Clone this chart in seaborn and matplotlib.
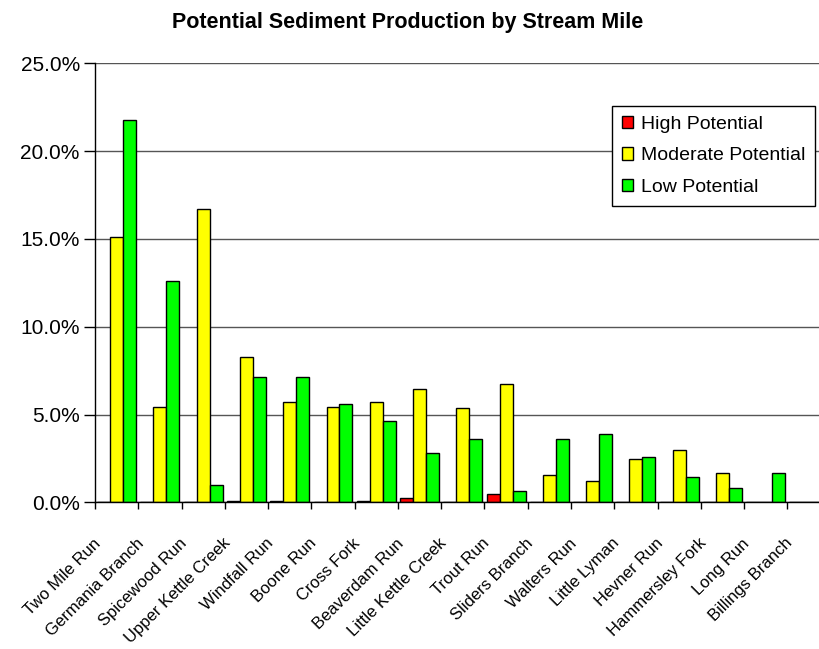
"""
plot.py — Potential sediment production by stream mile (grouped bars).
"""
import matplotlib
matplotlib.use("Agg")
import matplotlib.pyplot as plt
from matplotlib.ticker import PercentFormatter, FixedLocator
import matplotlib.transforms as mtransforms
import numpy as np
import pandas as pd
import seaborn as sns

# ─── Data (percent of stream miles) ──────────────────────────────────────────

streams = [
    "Two Mile Run", "Germania Branch", "Spicewood Run", "Upper Kettle Creek",
    "Windfall Run", "Boone Run", "Cross Fork", "Beaverdam Run",
    "Little Kettle Creek", "Trout Run", "Sliders Branch", "Walters Run",
    "Little Lyman", "Hevner Run", "Hammersley Fork", "Long Run",
    "Billings Branch",
]
high     = [0.0, 0.0, 0.0, 0.09, 0.09, 0.0, 0.08, 0.25, 0.0, 0.47,
            0.0, 0.0, 0.0, 0.0, 0.0, 0.0, 0.0]
moderate = [15.09, 5.44, 16.69, 8.27, 5.71, 5.43, 5.69, 6.45, 5.37, 6.72,
            1.55, 1.23, 2.47, 2.98, 1.65, 0.0, 0.0]
low      = [21.75, 12.62, 0.99, 7.13, 7.13, 5.62, 4.65, 2.81, 3.62, 0.66,
            3.62, 3.91, 2.56, 1.46, 0.83, 1.65, 0.0]

series_names = ["High Potential", "Moderate Potential", "Low Potential"]
series_colors = ["#FF0000", "#FFFF00", "#00FF00"]

df = pd.DataFrame({
    "stream": streams * 3,
    "potential": np.repeat(series_names, len(streams)),
    "share": high + moderate + low,
})

# ─── Plot ────────────────────────────────────────────────────────────────────

sns.set_style("white")
plt.rcParams["font.family"] = ["Liberation Sans", "DejaVu Sans"]
plt.rcParams["text.color"] = "black"
plt.rcParams["xtick.color"] = "black"
plt.rcParams["ytick.color"] = "black"

fig = plt.figure(figsize=(8.2, 6.49), dpi=100)
# plot area runs past the right edge, like the cropped original
ax = fig.add_axes([0.1159, 0.226, 0.897, 0.6764])

sns.barplot(
    data=df, x="stream", y="share", hue="potential",
    order=streams, hue_order=series_names,
    palette=series_colors, width=0.9,
    edgecolor="black", linewidth=1.0, saturation=1,
    ax=ax,
)

ax.set_ylim(0, 25)
ax.set_xlim(-0.5, len(streams) - 0.5)
ax.yaxis.set_major_locator(FixedLocator(np.arange(0, 25.1, 5)))
ax.yaxis.set_major_formatter(PercentFormatter(xmax=100, decimals=1))
ax.yaxis.grid(True, color="#555555", linewidth=1.0)
ax.set_axisbelow(True)
ax.set_xlabel("")
ax.set_ylabel("")

for side in ["top", "right"]:
    ax.spines[side].set_visible(False)
for side in ["left", "bottom"]:
    ax.spines[side].set_color("black")
    ax.spines[side].set_linewidth(1.0)

ax.tick_params(axis="y", length=8, width=1, color="black", labelcolor="black",
               labelsize=15, pad=3, direction="out", left=True)

# category labels at centers (no marks), boundary ticks as minor
ax.set_xticks(np.arange(len(streams)))
ax.set_xticklabels(streams, rotation=45, ha="right",
                   rotation_mode="anchor", fontsize=12)
ax.tick_params(axis="x", which="major", length=0, pad=24, labelcolor="black")
ax.set_xticks(np.arange(-0.5, len(streams)), minor=True)
ax.tick_params(axis="x", which="minor", length=5, width=1,
               color="black", direction="out", bottom=True)
shift = mtransforms.ScaledTranslation(-24 / 100, 0, fig.dpi_scale_trans)
for lbl in ax.get_xticklabels():
    lbl.set_transform(lbl.get_transform() + shift)

fig.text(0.497, 0.966, "Potential Sediment Production by Stream Mile",
         ha="center", va="center", fontsize=15.5, fontweight="bold",
         color="black")

handles, _ = ax.get_legend_handles_labels()
leg = ax.legend(
    handles, series_names, loc="upper left",
    bbox_to_anchor=(612 / 820, 1 - 106 / 649), bbox_transform=fig.transFigure,
    frameon=True, fancybox=False, edgecolor="black", framealpha=1,
    fontsize=14, handlelength=0.6, handleheight=0.6, handletextpad=0.4,
    borderpad=0.5, labelspacing=0.75, borderaxespad=0,
)
leg.get_frame().set_linewidth(1.0)

fig.savefig("out.png", dpi=100)
plt.close(fig)
